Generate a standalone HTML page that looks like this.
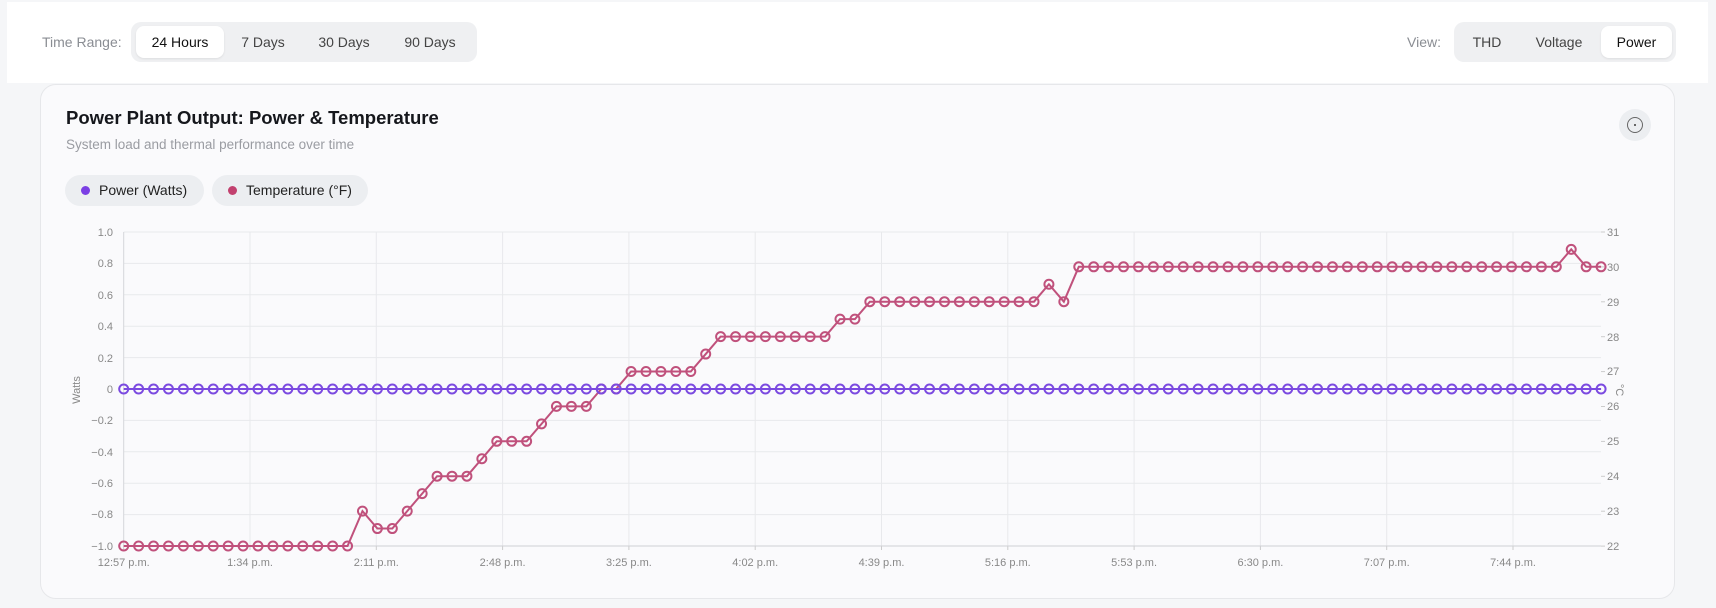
<!DOCTYPE html>
<html><head><meta charset="utf-8"><style>
*{box-sizing:border-box;margin:0;padding:0}
body{width:1716px;height:608px;background:#f5f6f8;font-family:"Liberation Sans",sans-serif;position:relative;overflow:hidden}
.abs{position:absolute}
.top{left:7px;top:2px;width:1701px;height:81px;background:#fff}
.grp{background:#eff0f2;border-radius:10px;height:40px;top:22px}
.btn{position:absolute;top:4px;height:32px;line-height:32px;font-size:14px;color:#444;text-align:center}
.act{background:#fff;border-radius:8px;color:#111;box-shadow:0 1px 2px rgba(0,0,0,.08)}
.card{left:40px;top:84px;width:1635px;height:515px;background:#fafafc;border:1px solid #e6e7ea;border-radius:16px}
.pill{top:175px;height:31px;background:#eceef1;border-radius:16px;font-size:14px;color:#222;line-height:31px;padding-left:34px}
.dot{position:absolute;left:16px;top:11px;width:9px;height:9px;border-radius:50%}
</style></head><body>
<div class="abs top"></div>
<div class="abs" style="left:42px;top:34px;font-size:14px;color:#8a8d93">Time Range:</div>
<div class="abs grp" style="left:131px;width:346px">
 <div class="btn act" style="left:5px;width:88px">24 Hours</div>
 <div class="btn" style="left:102px;width:60px">7 Days</div>
 <div class="btn" style="left:178px;width:70px">30 Days</div>
 <div class="btn" style="left:264px;width:70px">90 Days</div>
</div>
<div class="abs" style="left:1407px;top:34px;font-size:14px;color:#8a8d93">View:</div>
<div class="abs grp" style="left:1454px;width:222px">
 <div class="btn" style="left:10px;width:46px">THD</div>
 <div class="btn" style="left:70px;width:70px">Voltage</div>
 <div class="btn act" style="left:147px;width:71px">Power</div>
</div>
<div class="abs card"></div>
<div class="abs" style="left:66px;top:107px;font-size:18.5px;font-weight:bold;color:#15171c">Power Plant Output: Power &amp; Temperature</div>
<div class="abs" style="left:66px;top:137px;font-size:13.5px;color:#9a9ca2">System load and thermal performance over time</div>
<div class="abs pill" style="left:65px;width:139px"><span class="dot" style="background:#7b3fe4"></span>Power (Watts)</div>
<div class="abs pill" style="left:212px;width:156px"><span class="dot" style="background:#c2416f"></span>Temperature (°F)</div>
<div class="abs" style="left:1619px;top:109px;width:32px;height:32px;border-radius:50%;background:#eceef1"></div>
<div class="abs" style="left:1627px;top:117px;width:16px;height:16px;border-radius:50%;border:1.5px solid #666"></div>
<div class="abs" style="left:1634px;top:124px;width:2px;height:2px;background:#666"></div>
<svg class="abs" style="left:0;top:0" width="1716" height="608" font-family="Liberation Sans, sans-serif" font-size="11" fill="#888">
<g id="grid" stroke="#e8e9ec" stroke-width="1"></g>
<line x1="123.7" y1="232" x2="123.7" y2="546" stroke="#d5d6da"/>
<line x1="123.7" y1="546" x2="1601" y2="546" stroke="#cfd0d4"/>
<g text-anchor="end">
<text x="113" y="236">1.0</text><text x="113" y="267">0.8</text><text x="113" y="299">0.6</text><text x="113" y="330">0.4</text><text x="113" y="362">0.2</text><text x="113" y="393">0</text><text x="113" y="424">−0.2</text><text x="113" y="456">−0.4</text><text x="113" y="487">−0.6</text><text x="113" y="518">−0.8</text><text x="113" y="550">−1.0</text>
</g>
<g>
<text x="1607" y="236">31</text><text x="1607" y="271">30</text><text x="1607" y="306">29</text><text x="1607" y="341">28</text><text x="1607" y="375">27</text><text x="1607" y="410">26</text><text x="1607" y="445">25</text><text x="1607" y="480">24</text><text x="1607" y="515">23</text><text x="1607" y="550">22</text>
</g>
<text transform="translate(80,390) rotate(-90)" text-anchor="middle">Watts</text>
<text transform="translate(1616,390) rotate(90)" text-anchor="middle">°C</text>
<g text-anchor="middle">
<text x="123.7" y="566">12:57 p.m.</text><text x="250" y="566">1:34 p.m.</text><text x="376.3" y="566">2:11 p.m.</text><text x="502.6" y="566">2:48 p.m.</text><text x="628.9" y="566">3:25 p.m.</text><text x="755.2" y="566">4:02 p.m.</text><text x="881.5" y="566">4:39 p.m.</text><text x="1007.8" y="566">5:16 p.m.</text><text x="1134.1" y="566">5:53 p.m.</text><text x="1260.4" y="566">6:30 p.m.</text><text x="1386.7" y="566">7:07 p.m.</text><text x="1513" y="566">7:44 p.m.</text>
</g>
<g id="series"></g>
</svg>
<script>
var ns="http://www.w3.org/2000/svg";
function el(p,t,a){var e=document.createElementNS(ns,t);for(var k in a)e.setAttribute(k,a[k]);p.appendChild(e);return e;}
var g=document.getElementById('grid');
for(var i=0;i<=10;i++){var y=232+i*31.4;el(g,'line',{x1:123.7,x2:1601,y1:y,y2:y});}
for(var i=0;i<=9;i++){var y=232+i*34.9;el(g,'line',{x1:1601,x2:1605,y1:y,y2:y,stroke:'#ccc'});}
for(var i=1;i<12;i++){var x=123.7+i*126.3;el(g,'line',{x1:x,x2:x,y1:232,y2:546});}
for(var i=0;i<12;i++){var x=123.7+i*126.3;el(g,'line',{x1:x,x2:x,y1:546,y2:550,stroke:'#ccc'});}
var T=[];
function rep(v,n){for(var j=0;j<n;j++)T.push(v);}
rep(22,16);rep(23,1);rep(22.5,2);rep(23,1);rep(23.5,1);rep(24,3);rep(24.5,1);rep(25,3);rep(25.5,1);rep(26,3);rep(26.5,2);rep(27,5);rep(27.5,1);rep(28,8);rep(28.5,2);rep(29,12);rep(29.5,1);rep(29,1);rep(30,33);rep(30.5,1);rep(30,2);
var s=document.getElementById('series');
var pp=[],tp=[];
for(var i=0;i<100;i++){var x=123.7+i*14.923;pp.push(x+','+389);tp.push(x+','+(546-(T[i]-22)*34.9));}
el(s,'polyline',{points:tp.join(' '),fill:'none',stroke:'#c0517c','stroke-width':2});
for(var i=0;i<100;i++){var c=tp[i].split(',');el(s,'circle',{cx:c[0],cy:c[1],r:4.5,fill:'none',stroke:'#c0517c','stroke-width':2});}
el(s,'polyline',{points:pp.join(' '),fill:'none',stroke:'#7b4ae0','stroke-width':2});
for(var i=0;i<100;i++){var c=pp[i].split(',');el(s,'circle',{cx:c[0],cy:c[1],r:4.5,fill:'none',stroke:'#7b4ae0','stroke-width':2});}
</script>
</body></html>
